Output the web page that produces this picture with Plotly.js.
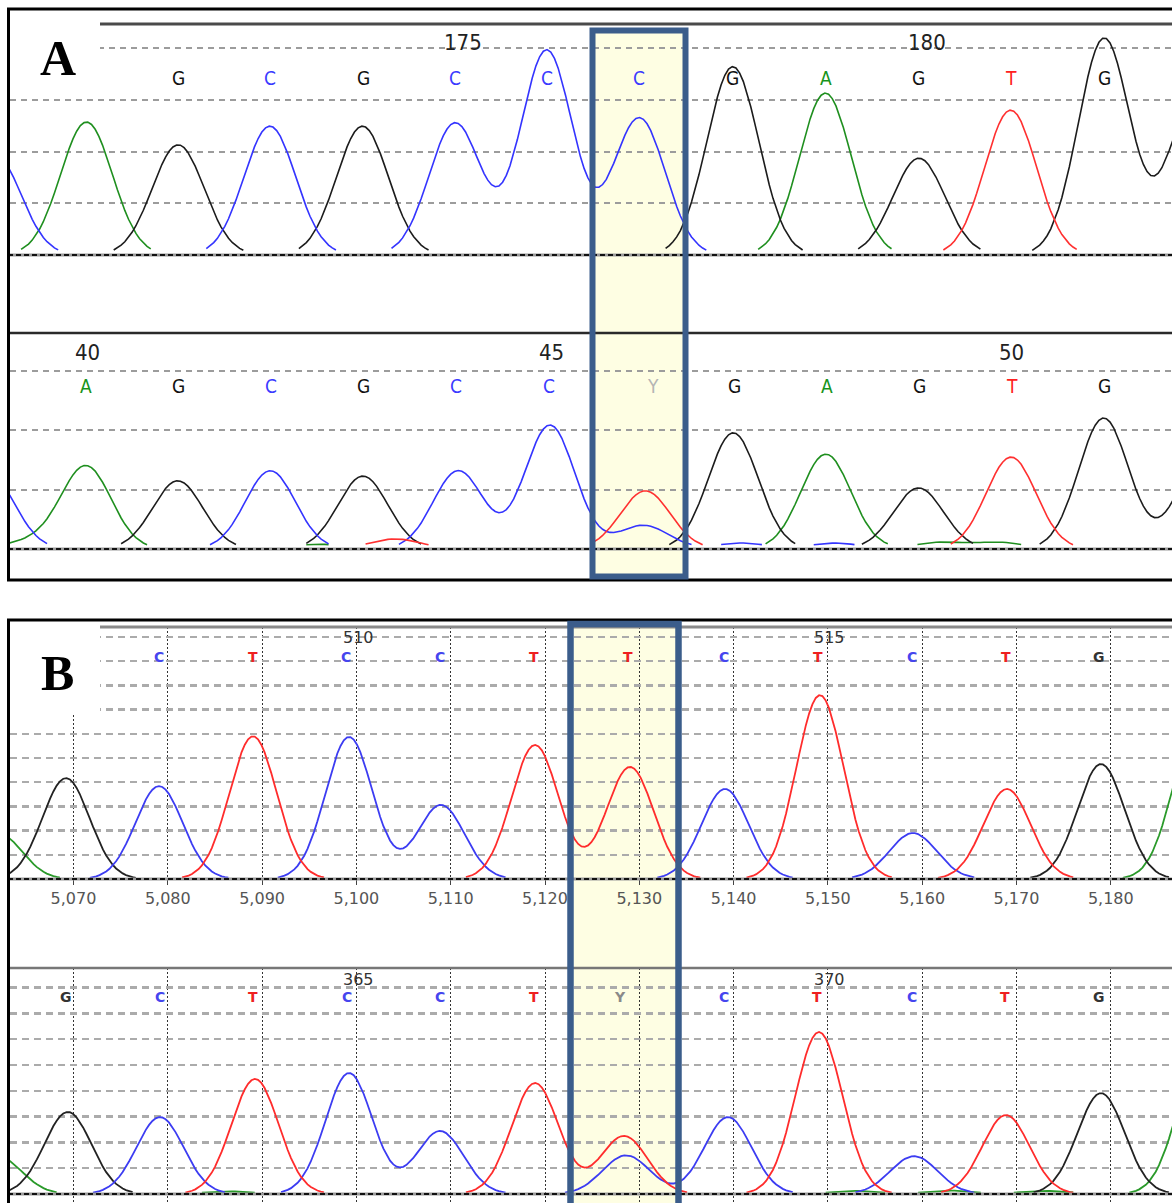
<!DOCTYPE html>
<html><head><meta charset="utf-8">
<script src="https://cdn.plot.ly/plotly-3.0.1.min.js"></script>
<style>html,body{margin:0;padding:0;background:#fff}#chart{width:1172px;height:1203px}</style>
</head><body><div id="chart"></div>
<script>
// ===== Panel A, upper trace: peak centre (base position) and height (grid units) per channel
const aTopG_pos = [172.01, 174.0, 178.0, 180.01, 182.01, 182.99];
const aTopG_h   = [2.13, 2.49, 3.64, 1.87, 4.19, 3.0];
const aTopA_pos = [171.02, 179.0];
const aTopA_h   = [2.57, 3.13];
const aTopC_pos = [170.03, 173.0, 175.0, 175.99, 176.99];
const aTopC_h   = [1.95, 2.49, 2.55, 3.96, 2.65];
const aTopT_pos = [181.0];
const aTopT_h   = [2.8];
const aTopCalls    = ['G','C','G','C','C','C','G','A','G','T','G'];
const aTopCallPos  = [172.01,173.0,174.01,175.0,175.99,176.99,178.0,179.01,180.01,181.0,182.01];
const aTopNums     = ['175','180'];
const aTopNumPos   = [175.09, 180.1];

// ===== Panel A, lower trace
const aBotG_pos = [40.99, 42.99, 46.99, 48.99, 50.99, 52.05];
const aBotG_h   = [1.15, 1.23, 1.96, 1.03, 2.21, 1.5];
const aBotA_pos = [39.4, 40.0, 42.51, 47.99, 49.22, 49.87];
const aBotA_h   = [0.12, 1.40, 0.08, 1.6, 0.11, 0.11];
const aBotC_pos = [38.96, 41.99, 44.02, 45.01, 46.02, 47.08, 48.09];
const aBotC_h   = [1.25, 1.32, 1.32, 2.09, 0.40, 0.10, 0.10];
const aBotT_pos = [43.34, 46.04, 49.99];
const aBotT_h   = [0.17, 0.98, 1.55];
const aBotCalls   = ['A','G','C','G','C','C','Y','G','A','G','T','G'];
const aBotCallPos = [40,41,42,43,44,45,46.12,47,48,49,50,51];
const aBotNums    = ['40','45','50'];
const aBotNumPos  = [40.02, 45.03, 50.0];

// ===== Panel B, upper trace (scan number)
const bTopG_pos = [5069.2, 5178.96];
const bTopG_h   = [4.17, 4.75];
const bTopA_pos = [5062.0, 5189.0];
const bTopA_h   = [1.9, 6.0];
const bTopC_pos = [5079.07, 5099.22, 5108.97, 5139.09, 5159.02];
const bTopC_h   = [3.84, 5.87, 3.06, 3.72, 1.9];
const bTopT_pos = [5089.04, 5118.94, 5129.02, 5149.16, 5168.99];
const bTopT_h   = [5.9, 5.54, 4.63, 7.6, 3.72];
const bTopCalls   = ['C','T','C','C','T','T','C','T','C','T','G'];
const bTopCallPos = [5079.1,5089.0,5098.9,5108.9,5118.8,5128.8,5139.0,5148.9,5158.9,5168.9,5178.8];
const bTopNums    = ['510','515'];
const bTopNumPos  = [5100.2, 5150.2];
const bTicks      = [5070,5080,5090,5100,5110,5120,5130,5140,5150,5160,5170,5180];

// ===== Panel B, lower trace
const bBotG_pos = [5069.4, 5178.96];
const bBotG_h   = [3.18, 3.91];
const bBotA_pos = [5062.0, 5086.5, 5152.9, 5162.9, 5173.0, 5189.5];
const bBotA_h   = [1.45, 0.10, 0.12, 0.13, 0.12, 5.2];
const bBotC_pos = [5079.17, 5099.22, 5108.87, 5128.6, 5139.4, 5159.13];
const bBotC_h   = [2.98, 4.69, 2.44, 1.5, 2.98, 1.47];
const bBotT_pos = [5089.25, 5118.94, 5128.38, 5149.05, 5168.88];
const bBotT_h   = [4.46, 4.3, 2.25, 6.28, 3.06];
const bBotCalls   = ['G','C','T','C','C','T','Y','C','T','C','T','G'];
const bBotCallPos = [5069.2,5079.2,5089.0,5099.0,5108.9,5118.8,5127.9,5139.0,5148.8,5158.9,5168.8,5178.8];
const bBotNums    = ['365','370'];
const bBotNumPos  = [5100.2, 5150.2];

// ===== styling / layout (pixels)
const W = 1172, H = 1203;
const fx = p => p / W;
const fy = p => 1 - p / H;
const colA = {G:'#1c1c1c', A:'#1f8f1f', C:'#3434ff', T:'#ff3030'};
const colB = {G:'#222222', A:'#2a9a2a', C:'#3c3cf2', T:'#ff2c2c'};
const callColA = {G:'#111111', A:'#17941a', C:'#3a3aff', T:'#ff2020', Y:'#b4b4b4'};
const callColB = {G:'#333333', A:'#2a9a2a', C:'#4545ee', T:'#ee2020', Y:'#8a8a8a'};

function curve(pos, h, sigma, x0, x1, step, thr) {
  const xs = [], ys = [];
  for (let x = x0; x <= x1 + 1e-9; x += step) {
    let v = 0;
    for (let i = 0; i < pos.length; i++) {
      const d = x - pos[i];
      v += h[i] * Math.exp(-d * d / (2 * sigma * sigma));
    }
    xs.push(x); ys.push(v >= thr ? v : null);
  }
  return {x: xs, y: ys};
}

const panels = [
  {xa:'x',  ya:'y',  range:[170.194,182.743], sigma:0.28, step:0.04, thr:0.09, cols:colA, w:1.6,
   ch:{G:[aTopG_pos,aTopG_h], A:[aTopA_pos,aTopA_h], C:[aTopC_pos,aTopC_h], T:[aTopT_pos,aTopT_h]}},
  {xa:'x2', ya:'y2', range:[39.179,51.728], sigma:0.27, step:0.04, thr:0.07, cols:colA, w:1.6,
   ch:{G:[aBotG_pos,aBotG_h], A:[aBotA_pos,aBotA_h], C:[aBotC_pos,aBotC_h], T:[aBotT_pos,aBotT_h]}},
  {xa:'x3', ya:'y3', range:[5063.266,5186.49], sigma:2.5, step:0.35, thr:0.05, cols:colB, w:1.8,
   ch:{G:[bTopG_pos,bTopG_h], A:[bTopA_pos,bTopA_h], C:[bTopC_pos,bTopC_h], T:[bTopT_pos,bTopT_h]}},
  {xa:'x4', ya:'y4', range:[5063.266,5186.49], sigma:2.5, step:0.35, thr:0.05, cols:colB, w:1.8,
   ch:{G:[bBotG_pos,bBotG_h], A:[bBotA_pos,bBotA_h], C:[bBotC_pos,bBotC_h], T:[bBotT_pos,bBotT_h]}}
];

const traces = [];
panels.forEach(p => {
  ['A','G','C','T'].forEach(k => {
    const c = curve(p.ch[k][0], p.ch[k][1], p.sigma, p.range[0] - 1, p.range[1] + 1, p.step, p.thr);
    traces.push({type:'scatter', mode:'lines', x:c.x, y:c.y, xaxis:p.xa, yaxis:p.ya,
      line:{color:p.cols[k], width:p.w}, hoverinfo:'skip', connectgaps:false});
  });
});

// ---- annotations
const ann = [];
function addCalls(calls, pos, xref, yPix, colMap, font, size, bold) {
  calls.forEach((c, i) => ann.push({x:pos[i], y:fy(yPix), xref:xref, yref:'paper', text: bold ? '<b>'+c+'</b>' : c,
    showarrow:false, xanchor:'center', yanchor:'middle', font:{family:font, size:size, color:colMap[c]}}));
}
function addNums(nums, pos, xref, yPix, font, size, color) {
  nums.forEach((n, i) => ann.push({x:pos[i], y:fy(yPix), xref:xref, yref:'paper', text:n,
    showarrow:false, xanchor:'center', yanchor:'middle', font:{family:font, size:size, color:color}}));
}
const narrow = 'Liberation Sans Narrow, Arial Narrow, DejaVu Sans Condensed, Liberation Sans, sans-serif';
addCalls(aTopCalls, aTopCallPos, 'x', 78, callColA, narrow, 19, false);
addNums(aTopNums, aTopNumPos, 'x', 43, narrow, 22, '#222');
addCalls(aBotCalls, aBotCallPos, 'x2', 386, callColA, narrow, 19, false);
addNums(aBotNums, aBotNumPos, 'x2', 352, narrow, 22, '#222');
addCalls(bTopCalls, bTopCallPos, 'x3', 657, callColB, 'DejaVu Sans', 14, true);
addNums(bTopNums, bTopNumPos, 'x3', 637, 'DejaVu Sans', 16, '#333');
addCalls(bBotCalls, bBotCallPos, 'x4', 997, callColB, 'DejaVu Sans', 14, true);
addNums(bBotNums, bBotNumPos, 'x4', 979, 'DejaVu Sans', 16, '#333');
ann.push({x:fx(58), y:fy(58), xref:'paper', yref:'paper', text:'<b>A</b>', showarrow:false,
  xanchor:'center', yanchor:'middle', font:{family:'Liberation Serif, Times New Roman, serif', size:50, color:'#000'}});
ann.push({x:fx(57), y:fy(673), xref:'paper', yref:'paper', text:'<b>B</b>', showarrow:false,
  xanchor:'center', yanchor:'middle', font:{family:'Liberation Serif, Times New Roman, serif', size:50, color:'#000'}});

// ---- shapes
const shapes = [];
function rect(x0, y0, x1, y1, fill, lineCol, lw, layer) {
  shapes.push({type:'rect', xref:'paper', yref:'paper', x0:fx(x0), x1:fx(x1), y0:fy(y1), y1:fy(y0),
    fillcolor:fill, line:{color:lineCol, width:lw}, layer:layer});
}
function hline(x0, x1, y, color, width, dash) {
  shapes.push({type:'line', xref:'paper', yref:'paper', x0:fx(x0), x1:fx(x1), y0:fy(y), y1:fy(y),
    line:{color:color, width:width, dash:dash || 'solid'}, layer:'above'});
}
// yellow highlight fills (beneath grid)
rect(592.5, 30.5, 685.5, 576.5, '#fefee3', 'rgba(0,0,0,0)', 0, 'below');
rect(570.5, 624, 678.5, 1215, '#fefee3', 'rgba(0,0,0,0)', 0, 'below');
// white label boxes
rect(10, 11, 100, 90, '#ffffff', 'rgba(0,0,0,0)', 0, 'above');
rect(10, 623, 100, 713, '#ffffff', 'rgba(0,0,0,0)', 0, 'above');
// top lines of each trace window
hline(100, 1180, 24, '#4a4a4a', 3);
hline(8, 1180, 333, '#2a2a2a', 2.5);
hline(100, 1180, 627, '#8a8a8a', 3);
hline(8, 1180, 968, '#777777', 2.5);
// baselines
[[255,'A'],[549,'A'],[879,'B'],[1194,'B']].forEach(b => {
  hline(8, 1180, b[0], '#9a9a9a', 3);
  hline(8, 1180, b[0], '#111111', 2, '5px,3px');
});
// panel borders
rect(8.5, 9, 1185, 580, 'rgba(0,0,0,0)', '#000000', 3, 'above');
rect(8.5, 620, 1185, 1215, 'rgba(0,0,0,0)', '#000000', 3, 'above');
// highlight borders
rect(592.5, 30.5, 685.5, 576.5, 'rgba(0,0,0,0)', '#3b5d8b', 6, 'above');
rect(570.5, 624, 678.5, 1215, 'rgba(0,0,0,0)', '#3b5d8b', 6.5, 'above');

const noAx = {showgrid:false, zeroline:false, showline:false, showticklabels:false, ticks:'', fixedrange:true};
const gridA = {showgrid:true, gridcolor:'#9c9c9c', gridwidth:2, griddash:'6px,5px', dtick:1, tick0:0,
  zeroline:false, showline:false, showticklabels:false, ticks:''};
const gridB = {showgrid:true, gridcolor:'#ababab', gridwidth:2.5, griddash:'7px,5px', dtick:1, tick0:0,
  zeroline:false, showline:false, showticklabels:false, ticks:''};
const xB = {showgrid:true, gridcolor:'#333333', gridwidth:1, griddash:'2px,2px', tickvals:bTicks,
  zeroline:false, showline:false};
const xDom = [fx(10), 1];

const layout = {
  width:W, height:H, autosize:false, margin:{l:0, r:0, t:0, b:0},
  paper_bgcolor:'#ffffff', plot_bgcolor:'rgba(0,0,0,0)', showlegend:false, hovermode:false,
  xaxis: Object.assign({}, noAx, {domain:xDom, range:panels[0].range, anchor:'y'}),
  yaxis: Object.assign({}, gridA, {domain:[fy(255), fy(24)], range:[0, 4.4638], anchor:'x'}),
  xaxis2: Object.assign({}, noAx, {domain:xDom, range:panels[1].range, anchor:'y2'}),
  yaxis2: Object.assign({}, gridA, {domain:[fy(549), fy(333)], range:[0, 3.6425], anchor:'x2'}),
  xaxis3: Object.assign({}, xB, {domain:xDom, range:panels[2].range, anchor:'y3',
    showticklabels:true, tickformat:',d', ticks:'outside', ticklen:5, tickcolor:'#444', tickwidth:1,
    tickfont:{family:'DejaVu Sans', size:16, color:'#555'}}),
  yaxis3: Object.assign({}, gridB, {domain:[fy(879), fy(627)], range:[0, 10.413], anchor:'x3'}),
  xaxis4: Object.assign({}, xB, {domain:xDom, range:panels[3].range, anchor:'y4', showticklabels:false, ticks:''}),
  yaxis4: Object.assign({}, gridB, {domain:[0, fy(968)], range:[-0.3488, 8.7597], anchor:'x4'}),
  shapes: shapes, annotations: ann
};

Plotly.newPlot('chart', traces, layout, {staticPlot:true, displayModeBar:false});
</script></body></html>
